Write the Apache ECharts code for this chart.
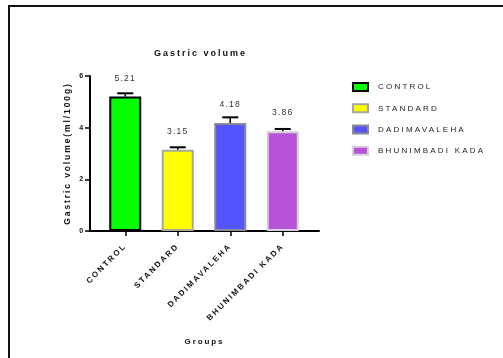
<!DOCTYPE html>
<html>
<head>
<meta charset="utf-8">
<script src="https://cdn.jsdelivr.net/npm/echarts@6/dist/echarts.min.js"></script>
<style>
  html, body { margin: 0; padding: 0; background: #fff; }
  #chart { width: 503px; height: 358px; }
</style>
</head>
<body>
<div id="chart"></div>
<script>
// Group names, means and standard errors of gastric volume (ml/100g)
const categories = ['CONTROL', 'STANDARD', 'DADIMAVALEHA', 'BHUNIMBADI KADA'];
const means = [5.21, 3.15, 4.18, 3.86];
const sem = [0.12, 0.09, 0.22, 0.09];
const yTicks = [0, 2, 4, 6];

// Bar fills and outlines, one per group
const fills = ['#00ff00', '#ffff00', '#5555ff', '#b653d8'];
const outlines = ['#000000', '#a9a99b', '#8a8a96', '#d6d0da'];

// Wide letter spacing on all canvas text (bold text slightly tighter)
(function () {
  const P = CanvasRenderingContext2D.prototype;
  const fill = P.fillText, meas = P.measureText;
  function spacing(ctx) {
    const f = ctx.font || '';
    const m = /([\d.]+)px/.exec(f);
    const size = m ? parseFloat(m[1]) : 12;
    const bold = /bold|[6-9]00/.test(f);
    if (bold) return size >= 9 ? 2 : 1.9;
    return size > 8.2 ? 1.3 : 2.2;
  }
  P.fillText = function (t, x, y, w) {
    this.letterSpacing = spacing(this) + 'px';
    return w === undefined ? fill.call(this, t, x, y) : fill.call(this, t, x, y, w);
  };
  P.measureText = function (t) {
    this.letterSpacing = spacing(this) + 'px';
    return meas.call(this, t);
  };
})();

const FONT = 'Liberation Sans, Arial, sans-serif';
const chart = echarts.init(document.getElementById('chart'), null, { renderer: 'canvas' });

const barSeries = categories.map((name, i) => ({
  name: name,
  type: 'bar',
  xAxisIndex: 0,
  yAxisIndex: 0,
  barWidth: 32,
  barGap: '-100%',
  data: categories.map((c, j) => (j === i ? means[i] : '-')),
  itemStyle: { color: fills[i], borderColor: outlines[i], borderWidth: 2 },
  label: {
    show: true,
    position: 'top',
    distance: 13,
    formatter: p => Number(p.value).toFixed(2),
    fontFamily: FONT,
    fontSize: 8.5,
    color: '#333'
  },
  z: 2
}));

const errorSeries = {
  type: 'custom',
  xAxisIndex: 0,
  yAxisIndex: 0,
  data: categories.map((c, i) => [i, means[i], means[i] + sem[i]]),
  encode: { x: 0, y: [1, 2] },
  renderItem: function (params, api) {
    const idx = api.value(0);
    const base = api.coord([idx, api.value(1)]);
    const top = api.coord([idx, api.value(2)]);
    return {
      type: 'group',
      children: [
        { type: 'line', shape: { x1: top[0], y1: base[1], x2: top[0], y2: top[1] },
          style: { stroke: '#000', lineWidth: 1.5 } },
        { type: 'line', shape: { x1: top[0] - 8, y1: top[1], x2: top[0] + 8, y2: top[1] },
          style: { stroke: '#000', lineWidth: 2 } }
      ]
    };
  },
  z: 3,
  silent: true
};

chart.setOption({
  animation: false,
  backgroundColor: '#fff',
  title: {
    text: 'Gastric volume',
    left: 149,
    top: 43,
    textStyle: { fontFamily: FONT, fontSize: 9, fontWeight: 'bold', color: '#111' }
  },
  legend: {
    data: categories,
    orient: 'vertical',
    left: 347,
    top: 77,
    itemWidth: 15,
    itemHeight: 8,
    itemGap: 11,
    icon: 'rect',
    textStyle: { fontFamily: FONT, fontSize: 8, color: '#1a1a1a', padding: [0, 0, 0, 5] }
  },
  grid: [
    { left: 99, width: 210, top: 76, height: 155 },
    { left: 90, width: 229, top: 76, height: 155 }
  ],
  xAxis: [
    {
      type: 'category',
      gridIndex: 0,
      data: categories,
      axisLine: { show: false },
      axisTick: { show: true, alignWithLabel: true, length: 5, lineStyle: { color: '#000', width: 1.5 } },
      axisLabel: {
        rotate: 45,
        margin: 14,
        interval: 0,
        fontFamily: FONT,
        fontSize: 8,
        fontWeight: 'bold',
        color: '#111'
      }
    },
    {
      type: 'value',
      gridIndex: 1,
      min: 0,
      max: 1,
      name: 'Groups',
      nameLocation: 'middle',
      nameGap: 106,
      nameTextStyle: { fontFamily: FONT, fontSize: 8, fontWeight: 'bold', color: '#111' },
      axisLine: { show: true, lineStyle: { color: '#000', width: 2 } },
      axisTick: { show: false },
      axisLabel: { show: false },
      splitLine: { show: false }
    }
  ],
  yAxis: [
    {
      type: 'value',
      gridIndex: 0,
      min: yTicks[0],
      max: yTicks[yTicks.length - 1],
      interval: yTicks[1] - yTicks[0],
      offset: 9,
      name: 'Gastric volume(ml/100g)',
      nameLocation: 'middle',
      nameGap: 17,
      nameTextStyle: { fontFamily: FONT, fontSize: 8.5, fontWeight: 'bold', color: '#111' },
      axisLine: { show: true, lineStyle: { color: '#000', width: 2 } },
      axisTick: { show: true, length: 5, lineStyle: { color: '#000', width: 1.5 } },
      axisLabel: { margin: 5, fontFamily: FONT, fontSize: 7, fontWeight: 'bold', color: '#111' },
      splitLine: { show: false }
    },
    { type: 'value', gridIndex: 1, show: false, min: 0, max: 1 }
  ],
  graphic: [
    { type: 'line', shape: { x1: 8, y1: 6, x2: 503, y2: 6 }, style: { stroke: '#111', lineWidth: 2 } },
    { type: 'line', shape: { x1: 9, y1: 5, x2: 9, y2: 358 }, style: { stroke: '#111', lineWidth: 2 } }
  ],
  series: barSeries.concat([errorSeries])
});
</script>
</body>
</html>
